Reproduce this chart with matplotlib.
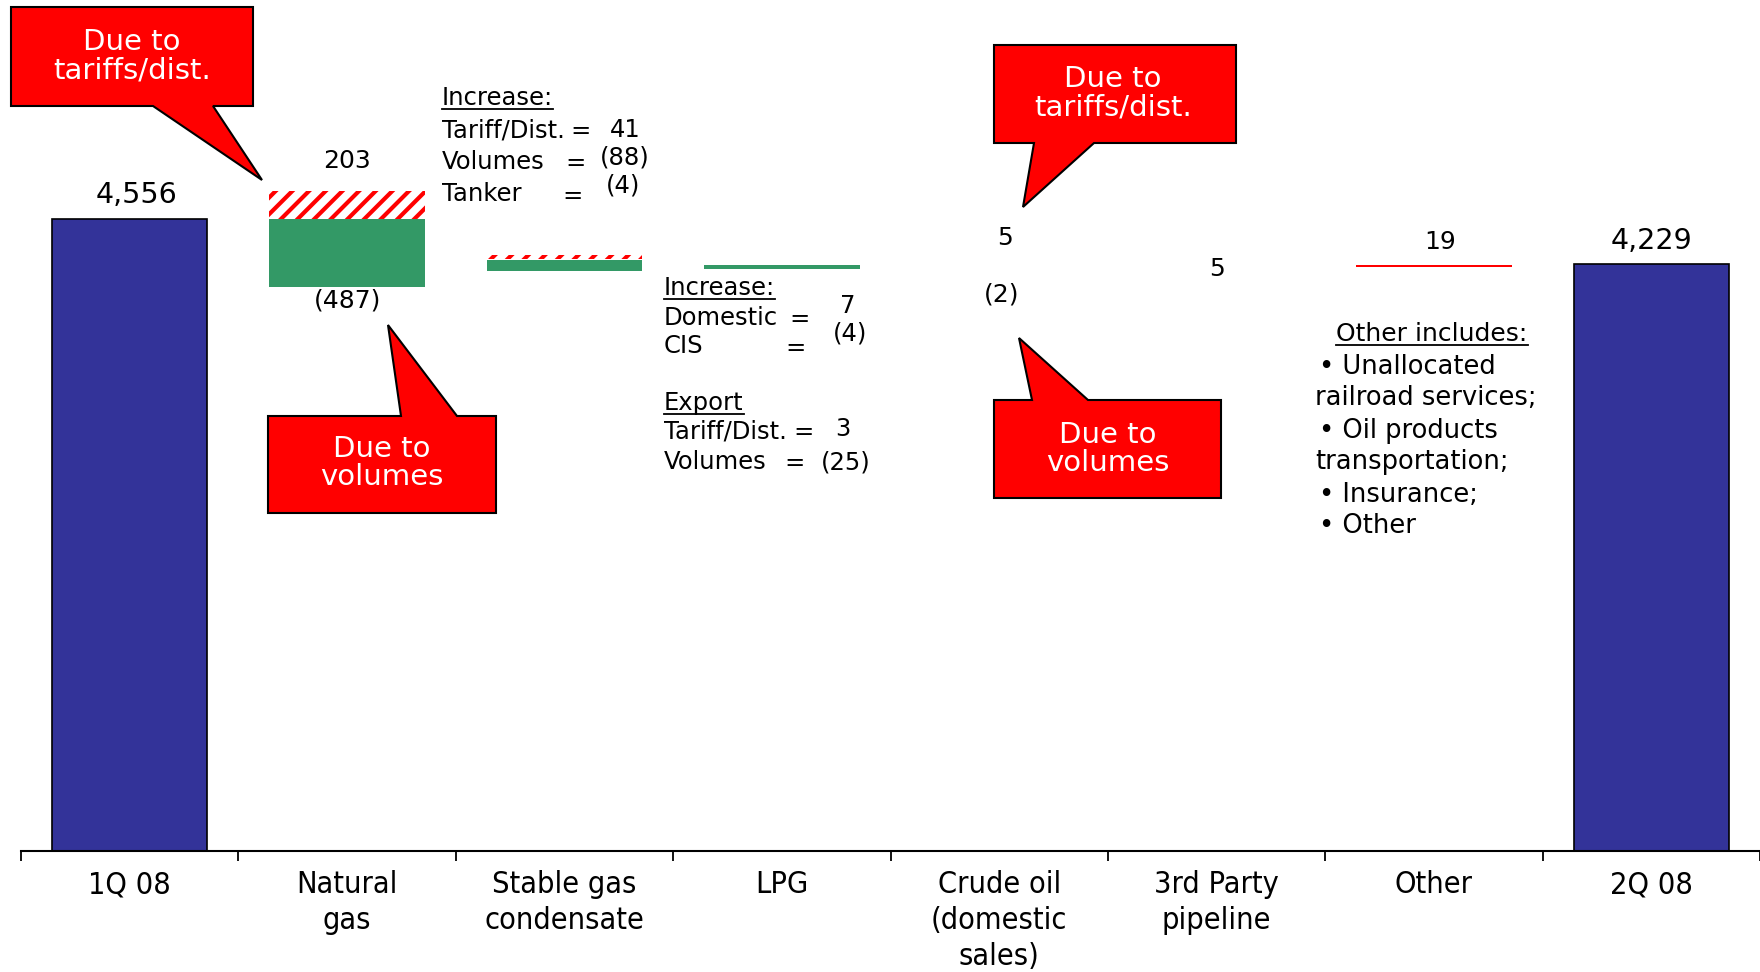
"""
Transportation expenses waterfall, 1Q 08 -> 2Q 08
"""

import matplotlib
matplotlib.use('Agg')
import matplotlib.pyplot as plt
from matplotlib.patches import Polygon
from matplotlib.lines import Line2D

# data
categories = ['1Q 08', 'Natural\ngas', 'Stable gas\ncondensate', 'LPG',
              'Crude oil\n(domestic\nsales)', '3rd Party\npipeline', 'Other', '2Q 08']
total_idx = [0, 7]
total_vals = [4556, 4229]
total_labels = ['4,556', '4,229']

# visible change pieces (category, bottom, top, kind)
seg_cat = [1, 1, 2, 2, 3, 6]
seg_bottom = [4556, 4066, 4266, 4180, 4196, 4211]
seg_top = [4760, 4553, 4295, 4258, 4221, 4224]
seg_kind = ['tariff', 'volume', 'tariff', 'volume', 'volume', 'other']

change_cat = [1, 1, 4, 4, 5, 6]
change_labels = ['203', '(487)', '5', '(2)', '5', '19']
change_label_y = [4977, 3965, 4419, 4008, 4195, 4387]

BLUE = '#333399'
GREEN = '#339966'
RED = '#FF0000'

W, H = 1760, 972
plt.rcParams['hatch.linewidth'] = 3.0
plt.rcParams['font.family'] = ['DejaVu Sans']

fig = plt.figure(figsize=(W / 100, H / 100), dpi=100)
fig.patch.set_facecolor('white')

# axes placed in pixels: left 21, right 1760, baseline at y=851
ax = fig.add_axes([21 / W, (H - 851) / H, (W - 21) / W, 851 / H])
ax.set_xlim(-0.5, len(categories) - 0.5)
ax.set_ylim(0, 851 / 0.13873)

bw = 0.715
ax.bar(total_idx, total_vals, width=bw, color=BLUE, edgecolor='black', linewidth=1.2, zorder=2)

for c, b, t, k in zip(seg_cat, seg_bottom, seg_top, seg_kind):
    if k == 'tariff':
        ax.bar(c, t - b, bottom=b, width=bw, color='white', edgecolor=RED,
               linewidth=0, hatch='//', zorder=2)
    elif k == 'volume':
        ax.bar(c, t - b, bottom=b, width=bw, color=GREEN, linewidth=0, zorder=2)
    else:
        ax.bar(c, t - b, bottom=b, width=bw, color=RED, linewidth=0, zorder=2)

# value labels
total_dx = [0.03, 0.0]
for i, v, s, dx in zip(total_idx, total_vals, total_labels, total_dx):
    ax.text(i + dx, v + 170, s, ha='center', va='center', fontsize=20.5, color='black')
change_dx = [0.0, 0.0, 0.025, 0.01, 0.0, 0.03]
for c, s, y, dx in zip(change_cat, change_labels, change_label_y, change_dx):
    ax.text(c + dx, y, s, ha='center', va='center', fontsize=18, color='black')

# axis styling
for sp in ['top', 'left', 'right']:
    ax.spines[sp].set_visible(False)
ax.spines['bottom'].set_linewidth(1.5)
ax.set_yticks([])
ax.set_xticks([i - 0.5 for i in range(len(categories))] + [len(categories) - 0.5])
ax.set_xticklabels([])
ax.tick_params(axis='x', which='major', direction='out', length=7, width=1.3)
ax.set_xticks(range(len(categories)), minor=True)
ax.set_xticklabels(categories, minor=True, fontsize=22, fontstretch='condensed',
                   linespacing=1.3, va='top')
ax.tick_params(axis='x', which='minor', length=0, pad=14)


def fxy(x, y):
    return (x / W, 1 - y / H)


def txt(x, y, s, **kw):
    kw.setdefault('fontsize', 17.5)
    kw.setdefault('va', 'center')
    return fig.text(x / W, 1 - y / H, s, **kw)


def underline(t):
    fig.canvas.draw()
    bb = t.get_window_extent()
    fig.add_artist(Line2D([bb.x0 / W, bb.x1 / W], [(bb.y0 + 1) / H] * 2,
                          color='black', linewidth=1.3))


def callout(x0, x1, y0, y1, bl, br, tip, down):
    if down:  # pointer hangs from bottom edge
        pts = [(x0, y0), (x1, y0), (x1, y1), (br, y1), tip, (bl, y1), (x0, y1)]
    else:
        pts = [(x0, y0), (bl, y0), tip, (br, y0), (x1, y0), (x1, y1), (x0, y1)]
    poly = Polygon([fxy(*p) for p in pts], closed=True, transform=fig.transFigure,
                   facecolor=RED, edgecolor='black', linewidth=1.5)
    fig.add_artist(poly)


# callouts
callout(11, 253, 7, 106, 153, 213, (262, 180), True)
txt(132, 56, 'Due to\ntariffs/dist.', ha='center', color='white', fontsize=21, linespacing=1.02)
callout(268, 496, 416, 513, 401, 457, (388, 325), False)
txt(382, 463, 'Due to\nvolumes', ha='center', color='white', fontsize=21, linespacing=1.02)
callout(994, 1236, 45, 143, 1034, 1094, (1023, 207), True)
txt(1113, 93, 'Due to\ntariffs/dist.', ha='center', color='white', fontsize=21, linespacing=1.02)
callout(994, 1221, 400, 498, 1032, 1088, (1019, 338), False)
txt(1108, 449, 'Due to\nvolumes', ha='center', color='white', fontsize=21, linespacing=1.02)

# condensate breakdown
t = txt(442, 98, 'Increase:')
underline(t)
txt(442, 130, 'Tariff/Dist.')
txt(581, 131, '=', ha='center')
txt(625, 130, '41', ha='center')
txt(442, 162, 'Volumes')
txt(576, 163, '=', ha='center')
txt(625, 157, '(88)', ha='center')
txt(442, 194, 'Tanker')
txt(573, 196, '=', ha='center')
txt(623, 186, '(4)', ha='center')

# LPG breakdown
t = txt(664, 288, 'Increase:')
underline(t)
txt(664, 318, 'Domestic')
txt(800, 319, '=', ha='center')
txt(848, 306, '7', ha='center')
txt(664, 346, 'CIS')
txt(796, 348, '=', ha='center')
txt(850, 333, '(4)', ha='center')
t = txt(664, 403, 'Export')
underline(t)
txt(664, 431, 'Tariff/Dist.')
txt(804, 432, '=', ha='center')
txt(843, 429, '3', ha='center')
txt(664, 462, 'Volumes')
txt(795, 463, '=', ha='center')
txt(846, 462, '(25)', ha='center')

# other breakdown
t = txt(1432, 334, 'Other includes:', ha='center', fontsize=18)
underline(t)
other_lines = ['\u2022 Unallocated', 'railroad services;', '\u2022 Oil products',
               'transportation;', '\u2022 Insurance;', '\u2022 Other']
other_x = [1319, 1315, 1319, 1315, 1319, 1319]
other_y = [367, 398, 431, 462, 495, 526]
for s, x, y in zip(other_lines, other_x, other_y):
    txt(x, y, s, fontsize=18.5)

plt.savefig('out.png', dpi=100)
